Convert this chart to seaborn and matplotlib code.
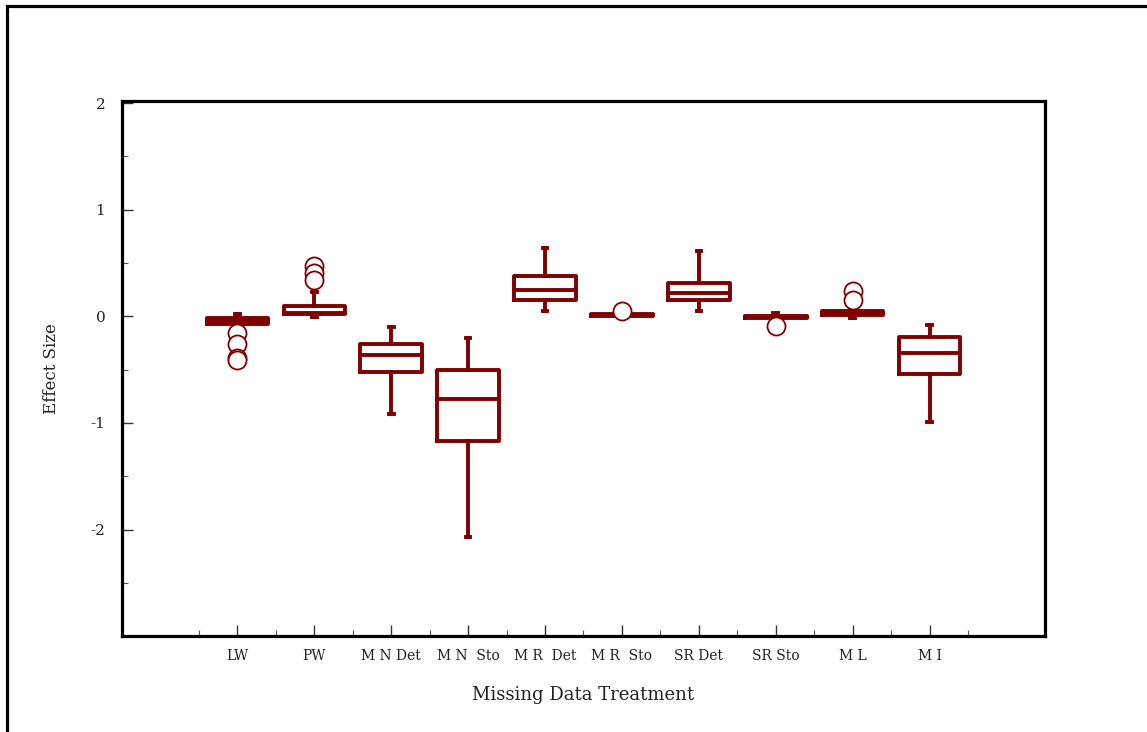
import numpy as np
import pandas as pd
import matplotlib
matplotlib.use("Agg")
import matplotlib.pyplot as plt
from matplotlib.patches import Rectangle
from matplotlib.ticker import MultipleLocator
import seaborn as sns

# Treatments on the x axis
treatments = ["LW", "PW", "M N Det", "M N  Sto", "M R  Det", "M R  Sto",
              "SR Det", "SR Sto", "M L", "M I"]

# Five-number summaries per treatment: whisker low, Q1, median, Q3, whisker high
low_whisker = [-0.08, -0.01, -0.92, -2.07, 0.05, -0.01, 0.05, -0.03, -0.02, -0.99]
q1          = [-0.07,  0.02, -0.52, -1.17, 0.15,  0.00, 0.15, -0.02,  0.01, -0.54]
median      = [-0.04,  0.03, -0.36, -0.78, 0.245, 0.01, 0.215, -0.01, 0.03, -0.34]
q3          = [-0.02,  0.10, -0.26, -0.50, 0.38,  0.02, 0.31,  0.00,  0.05, -0.19]
high_whisker = [0.02,  0.23, -0.10, -0.20, 0.64,  0.03, 0.61,  0.03,  0.07, -0.08]

# Outlying effect sizes
outlier_treatment = ["LW", "LW", "LW", "LW", "PW", "PW", "PW",
                     "M R  Sto", "SR Sto", "M L", "M L"]
outlier_value = [-0.16, -0.26, -0.39, -0.41, 0.47, 0.41, 0.34,
                 0.05, -0.09, 0.24, 0.15]

MAROON = "#800000"

rows = []
for i, t in enumerate(treatments):
    for v in (low_whisker[i], q1[i], median[i], q3[i], high_whisker[i]):
        rows.append({"treatment": t, "effect": v})
summary_df = pd.DataFrame(rows)
outlier_df = pd.DataFrame({"treatment": outlier_treatment, "effect": outlier_value})

sns.set_style("white")
plt.rcParams["font.family"] = ["DejaVu Serif"]
plt.rcParams["axes.unicode_minus"] = False

fig = plt.figure(figsize=(11.47, 7.32), dpi=100)
ax = fig.add_axes([0.1064, 0.131, 0.8046, 0.731])

sns.boxplot(data=summary_df, x="treatment", y="effect", order=treatments,
            whis=(0, 100), width=0.8, fill=False, color=MAROON,
            linewidth=2.8, showfliers=False, capwidths=0.06, ax=ax)
for line in ax.lines:
    line.set_solid_capstyle("projecting")

sns.stripplot(data=outlier_df, x="treatment", y="effect", order=treatments,
              jitter=False, color="white", edgecolor=MAROON, linewidth=1.3,
              size=13, zorder=4, ax=ax)

ax.set_xlim(-1.5, 10.5)
ax.set_ylim(-3, 2.02)
ax.set_yticks([-2, -1, 0, 1, 2])
ax.yaxis.set_minor_locator(MultipleLocator(0.5))
ax.set_xticks(range(len(treatments)))
ax.set_xticklabels(treatments)
ax.set_xticks(np.arange(-0.5, 10, 1.0), minor=True)

ax.tick_params(which="both", bottom=True, left=True, top=False, right=False)
ax.tick_params(which="major", direction="in", length=8, width=1, color="#333333",
               labelsize=11, labelcolor="#222222")
ax.tick_params(axis="y", which="major", pad=12)
ax.tick_params(axis="x", which="major", pad=9, labelsize=10)
ax.tick_params(which="minor", direction="in", length=4, width=0.8, color="#555555")

for side in ("left", "right", "top", "bottom"):
    ax.spines[side].set_visible(True)
    ax.spines[side].set_color("black")
    ax.spines[side].set_linewidth(2.3)

ax.set_xlabel("Missing Data Treatment", fontsize=13, labelpad=17, color="#222222")
ax.set_ylabel("Effect Size", fontsize=12, labelpad=22, color="#222222")

# Outer frame around the figure
frame = Rectangle((7 / 1147, -0.2), 1.2, 1.2 - 6 / 732,
                  transform=fig.transFigure, fill=False, edgecolor="black",
                  linewidth=2.3, clip_on=False)
fig.patches.append(frame)

fig.savefig("out.png", dpi=100)
